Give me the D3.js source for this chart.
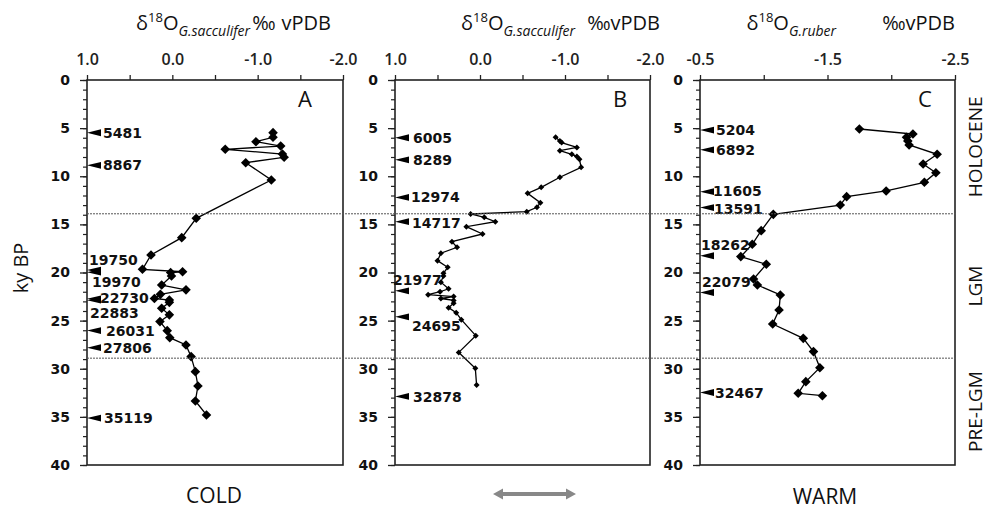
<!DOCTYPE html>
<html><head><meta charset="utf-8">
<script src="https://cdn.jsdelivr.net/npm/d3@7"></script>
<style>body{margin:0;background:#fff}</style>
</head><body><svg id="c" width="992" height="512"></svg>
<script>
// ---------- DATA ----------
const depthA = [5.47,5.95,6.41,6.86,7.2,7.69,8.03,8.59,10.39,14.37,16.38,18.18,19.67,19.92,20.0,20.36,21.3,21.8,22.27,22.7,22.86,23.1,23.72,24.4,25.1,26.04,26.77,27.53,28.74,30.3,31.79,33.35,34.8];
const d18oA  = [-1.18,-1.18,-0.98,-1.27,-0.62,-1.29,-1.31,-0.86,-1.16,-0.28,-0.11,0.25,0.35,-0.12,0.02,0.01,0.125,-0.16,0.14,0.21,0.035,0.035,0.125,0.035,0.145,0.06,0.03,-0.16,-0.22,-0.27,-0.30,-0.27,-0.40];

const depthB = [5.96,6.34,6.5,7.0,7.34,7.72,7.96,8.24,9.07,10.1,11.15,11.77,12.75,13.23,13.68,13.92,14.27,14.72,15.24,16.0,16.8,17.38,18.0,18.77,19.46,20.08,20.36,21.0,21.7,22.0,22.3,22.5,22.7,22.9,23.2,23.65,24.17,24.9,26.56,28.3,29.96,31.7];
const d18oB  = [-0.89,-0.94,-0.96,-1.14,-0.94,-1.08,-1.14,-1.17,-1.19,-0.94,-0.72,-0.56,-0.71,-0.67,-0.55,0.11,-0.05,-0.18,0.16,-0.03,0.33,0.27,0.46,0.50,0.38,0.43,0.43,0.46,0.37,0.47,0.61,0.31,0.46,0.31,0.31,0.37,0.28,0.22,0.05,0.25,0.055,0.04];

const depthC = [5.09,5.61,5.96,6.34,6.75,7.72,8.73,9.63,10.63,11.53,12.12,12.99,13.96,15.65,17.07,18.35,19.15,20.68,21.3,22.34,23.9,25.35,26.84,28.22,29.89,31.34,32.55,32.8];
const d18oC  = [-1.75,-2.17,-2.12,-2.13,-2.14,-2.36,-2.25,-2.35,-2.26,-1.96,-1.65,-1.60,-1.075,-0.98,-0.91,-0.82,-1.02,-0.92,-0.95,-1.13,-1.12,-1.07,-1.31,-1.39,-1.44,-1.33,-1.27,-1.46];

// radiocarbon age markers (label, depth in ky as drawn)
const agesA = ["5481","8867","19750","19970","22730","22883","26031","27806","35119"];
const ageDepthA = [5.48,8.87,19.75,19.97,22.73,22.88,26.03,27.81,35.12];
const agesB = ["6005","8289","12974","14717","21977","24695","32878"];
const ageDepthB = [6.0,8.29,12.2,14.72,21.9,24.6,32.88];
const agesC = ["5204","6892","11605","13591","18262","22079","32467"];
const ageDepthC = [5.2,7.25,11.6,13.25,18.26,22.08,32.47];

const xTicksAB = [1,0.5,0,-0.5,-1,-1.5,-2];
const xLabelsAB = [1,0,-1,-2];
const xTicksC = [-0.5,-1,-1.5,-2,-2.5];
const xLabelsC = [-0.5,-1.5,-2.5];
const yTicks = d3.range(0,41,1);
const yLabels = [0,5,10,15,20,25,30,35,40];
const boundaries = [13.9,28.9];
const periods = ["HOLOCENE","LGM","PRE-LGM"];

// ---------- LAYOUT ----------
const yTop = 80, yBot = 465;
const y = d3.scaleLinear().domain([0,40]).range([yTop,yBot]);
const labelOffsets = {
  "5481":[16,0],"8867":[16,0],"19750":[2,-10],"19970":[5,10],"22730":[13,-1],"22883":[3,13],"26031":[19,0],"27806":[16,0],"35119":[17,0],
  "6005":[18,0],"8289":[18,0],"12974":[16,0],"14717":[17,1],"21977":[-2,-11],"24695":[17,9],"32878":[18,0],
  "5204":[16,0],"6892":[16,0],"11605":[13,-1],"13591":[14,1],"18262":[1,-11],"22079":[2,-11],"32467":[15,0]
};
const panels = [
  {id:"A", domain:[1,-2], range:[87,343], depth:depthA, val:d18oA, ages:agesA, ageDepth:ageDepthA, ticks:xTicksAB, labels:xLabelsAB, r:4.8, sub:"G.sacculifer", gap1:2, gap2:6, tEnd:331},
  {id:"B", domain:[1,-2], range:[395,650], depth:depthB, val:d18oB, ages:agesB, ageDepth:ageDepthB, ticks:xTicksAB, labels:xLabelsAB, r:3, sub:"G.sacculifer", gap1:12, gap2:0, tEnd:660},
  {id:"C", domain:[-0.5,-2.5], range:[700,955], depth:depthC, val:d18oC, ages:agesC, ageDepth:ageDepthC, ticks:xTicksC, labels:xLabelsC, r:4.8, sub:"G.ruber", gap1:46, gap2:0, tEnd:955}
];

const svg = d3.select("#c");
const SANS = "'Open Sans', 'Noto Sans', sans-serif";
const VER = "'DejaVu Sans', Verdana, sans-serif";
const fmt = d => (d<0?"-":"") + Math.abs(d).toFixed(1);
const diamond = r => `M0,${-r}L${r},0L0,${r}L${-r},0Z`;

panels.forEach(p => {
  const x = d3.scaleLinear().domain(p.domain).range(p.range);
  const g = svg.append("g");

  // top axis
  const ax = g.append("g").attr("transform",`translate(0,${yTop})`)
    .call(d3.axisTop(x).tickValues(p.ticks).tickSize(5).tickPadding(10)
      .tickFormat(d => p.labels.includes(d) ? fmt(d) : ""));
  ax.select(".domain").remove();
  ax.selectAll("line").attr("stroke","#222").attr("stroke-width",1.3);
  ax.selectAll("text").style("font-family",SANS).style("font-size","16px").style("font-weight","600").attr("fill","#222");

  // left axis: minor + major ticks
  const axMinor = g.append("g").attr("transform",`translate(${p.range[0]},0)`)
    .call(d3.axisLeft(y).tickValues(yTicks).tickSize(4).tickFormat(""));
  axMinor.select(".domain").remove();
  axMinor.selectAll("line").attr("stroke","#222").attr("stroke-width",1.2);
  const axMajor = g.append("g").attr("transform",`translate(${p.range[0]},0)`)
    .call(d3.axisLeft(y).tickValues(yLabels).tickSize(7).tickPadding(10).tickFormat(d3.format("d")));
  axMajor.select(".domain").remove();
  axMajor.selectAll("line").attr("stroke","#222").attr("stroke-width",1.3);
  axMajor.selectAll("text").style("font-family",VER).style("font-size","14px").style("font-weight","bold").attr("fill","#111");

  // frame
  g.append("rect").attr("x",p.range[0]).attr("y",yTop).attr("width",p.range[1]-p.range[0]).attr("height",yBot-yTop)
    .attr("fill","none").attr("stroke","#222").attr("stroke-width",1.6);

  // panel letter
  g.append("text").attr("x",p.range[1]-(p.id==="A"?38:30)).attr("y",107).attr("text-anchor","middle")
    .style("font-family",SANS).style("font-size","22px").attr("fill","#111").text(p.id);

  // title
  const t = svg.append("text").attr("x",p.tEnd).attr("y",30).attr("text-anchor","end")
    .style("font-family",SANS).style("font-size","20px").attr("fill","#111");
  t.append("tspan").text("δ");
  t.append("tspan").attr("dy",-8).style("font-size","13px").text("18");
  t.append("tspan").attr("dy",8).text("O");
  t.append("tspan").attr("dy",6).style("font-size","14px").style("font-style","italic").text(p.sub);
  t.append("tspan").attr("dy",-6).attr("dx",p.gap1).text("‰");
  t.append("tspan").attr("dx",p.gap2).text("vPDB");

  // data line
  const pts = p.depth.map((d,i) => [p.val[i], d]);
  g.append("path").datum(pts)
    .attr("d", d3.line().x(d => x(d[0])).y(d => y(d[1])))
    .attr("fill","none").attr("stroke","#000").attr("stroke-width",1.3);
  g.selectAll(".pt").data(pts).join("path")
    .attr("transform", d => `translate(${x(d[0])},${y(d[1])})`)
    .attr("d", diamond(p.r)).attr("fill","#000");

  // age markers
  p.ages.forEach((lab,i) => {
    const yy = y(p.ageDepth[i]);
    const x0 = p.range[0];
    g.append("path").attr("d",`M${x0},${yy}L${x0+14},${yy-3.4}L${x0+14},${yy+3.4}Z`).attr("fill","#000");
    const off = labelOffsets[lab];
    g.append("text").attr("x",x0+off[0]).attr("y",yy+off[1]).attr("dy","0.36em")
      .style("font-family",VER).style("font-size","14px").style("font-weight","bold").attr("fill","#111").text(lab);
  });
});

// dotted boundaries
svg.selectAll(".bd").data(boundaries).join("line")
  .attr("x1",87).attr("x2",957).attr("y1",d=>y(d)).attr("y2",d=>y(d))
  .attr("stroke","#555").attr("stroke-width",1).attr("stroke-dasharray","2,1");

// period labels
const edges = [0, ...boundaries, 40];
periods.forEach((name,i) => {
  const cy = (y(edges[i]) + y(edges[i+1]))/2;
  svg.append("text").attr("transform",`translate(982,${cy}) rotate(-90)`).attr("text-anchor","middle")
    .style("font-family",SANS).style("font-size","19px").attr("fill","#111").text(name);
});

// y label
svg.append("text").attr("transform","translate(28,268) rotate(-90)").attr("text-anchor","middle")
  .style("font-family",SANS).style("font-size","20px").attr("fill","#111").text("ky BP");

// bottom labels
svg.append("text").attr("x",214).attr("y",503).attr("text-anchor","middle")
  .style("font-family",SANS).style("font-size","21px").attr("fill","#111").text("COLD");
svg.append("text").attr("x",825).attr("y",504).attr("text-anchor","middle")
  .style("font-family",SANS).style("font-size","21px").attr("fill","#111").text("WARM");
svg.append("path")
  .attr("d","M493,494 L503,488.5 L503,492 L566,492 L566,488.5 L576,494 L566,499.5 L566,496 L503,496 L503,499.5 Z")
  .attr("fill","#888");
</script></body></html>
